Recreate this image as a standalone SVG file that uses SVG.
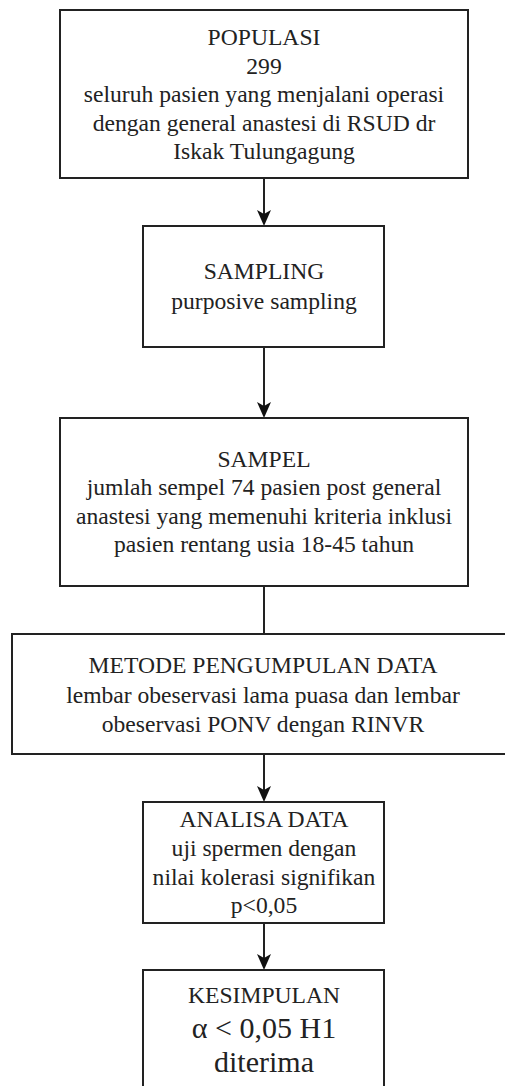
<svg xmlns="http://www.w3.org/2000/svg" width="505" height="1086" viewBox="0 0 505 1086">
<style>
.box{fill:#fff;stroke:#222;stroke-width:2}
text{font-family:'Liberation Serif','Times New Roman',Tinos,'DejaVu Serif',serif;font-size:23.6px;fill:#222;text-anchor:middle}
.big{font-size:30px}
.c{stroke:#222;stroke-width:2;fill:none}
.ah{fill:#111}
</style>
<rect width="505" height="1086" fill="#fff"/>
<g id="connectors">
<line class="c" x1="264" y1="178" x2="264" y2="214"/>
<path class="ah" d="M257,210 L264,214 L271,210 L264,226 Z"/>
<line class="c" x1="264" y1="347" x2="264" y2="406"/>
<path class="ah" d="M257,402 L264,406 L271,402 L264,418 Z"/>
<line class="c" x1="264" y1="586" x2="264" y2="634"/>
<line class="c" x1="264" y1="754" x2="264" y2="790"/>
<path class="ah" d="M257,786 L264,790 L271,786 L264,802 Z"/>
<line class="c" x1="264" y1="923" x2="264" y2="958"/>
<path class="ah" d="M257,954 L264,958 L271,954 L264,970 Z"/>
</g>
<g id="populasi">
<rect class="box" x="60" y="10" width="408" height="168"/>
<text x="264" y="45">POPULASI</text>
<text x="264" y="74">299</text>
<text x="264" y="102">seluruh pasien yang menjalani operasi</text>
<text x="264" y="131">dengan general anastesi di RSUD dr</text>
<text x="264" y="159">Iskak Tulungagung</text>
</g>
<g id="sampling">
<rect class="box" x="143" y="226" width="241" height="121"/>
<text x="264" y="279">SAMPLING</text>
<text x="264" y="309">purposive sampling</text>
</g>
<g id="sampel">
<rect class="box" x="60" y="418" width="408" height="168"/>
<text x="264" y="467">SAMPEL</text>
<text x="264" y="495">jumlah sempel 74 pasien post general</text>
<text x="264" y="524">anastesi yang memenuhi kriteria inklusi</text>
<text x="264" y="552">pasien rentang usia 18-45 tahun</text>
</g>
<g id="metode">
<rect class="box" x="12" y="634" width="510" height="120"/>
<text x="263" y="673">METODE PENGUMPULAN DATA</text>
<text x="263" y="703">lembar obeservasi lama puasa dan lembar</text>
<text x="263" y="732">obeservasi PONV dengan RINVR</text>
</g>
<g id="analisa">
<rect class="box" x="143" y="802" width="241" height="121"/>
<text x="264" y="827">ANALISA DATA</text>
<text x="264" y="856">uji spermen dengan</text>
<text x="264" y="885">nilai kolerasi signifikan</text>
<text x="264" y="913">p&lt;0,05</text>
</g>
<g id="kesimpulan">
<rect class="box" x="143" y="970" width="241" height="130"/>
<text x="264" y="1003">KESIMPULAN</text>
<text class="big" x="264" y="1038">α &lt; 0,05 H1</text>
<text class="big" x="264" y="1072">diterima</text>
</g>
</svg>
